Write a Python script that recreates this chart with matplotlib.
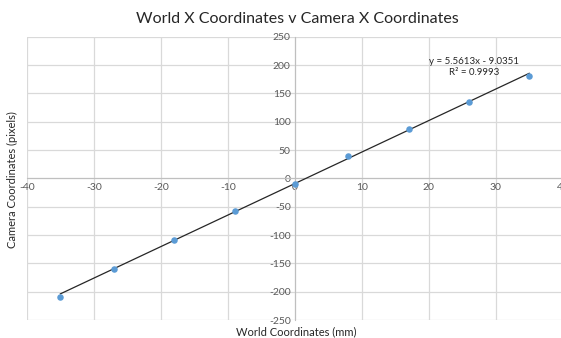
import matplotlib

matplotlib.use("Agg")
import matplotlib.pyplot as plt
import numpy as np

# ---------------------------------------------------------------------------
# Data
# ---------------------------------------------------------------------------
world_x = [-35, -27, -18, -9, 0, 8, 17, 26, 35]
camera_x = [-210, -160, -108, -58, -10, 40, 88, 135, 181]
slope = 5.5613
intercept = -9.0351
r_squared = 0.9993

x_ticks = [-40, -30, -20, -10, 0, 10, 20, 30, 40]
y_ticks = [-250, -200, -150, -100, -50, 0, 50, 100, 150, 200, 250]

plt.rcParams["font.family"] = ["Lato", "DejaVu Sans"]

fig = plt.figure(figsize=(5.61, 3.38), dpi=100)
ax = fig.add_axes([0.048, 0.053, 0.955, 0.838])

grid_col = "#d9d9d9"
tick_col = "#595959"

ax.set_xlim(-40, 40)
ax.set_ylim(-250, 250)
ax.set_xticks(x_ticks)
ax.set_yticks(y_ticks)
ax.grid(True, color=grid_col, linewidth=0.9)
ax.set_axisbelow(True)

for side in ("top", "right"):
    ax.spines[side].set_visible(False)
ax.spines["left"].set_position("zero")
ax.spines["bottom"].set_position("zero")
ax.spines["left"].set_color("#bfbfbf")
ax.spines["bottom"].set_color("#bfbfbf")
ax.tick_params(length=0, labelsize=7.5, labelcolor=tick_col, pad=3)
ax.set_xticklabels([str(v) for v in x_ticks])
ax.set_yticklabels([str(v) for v in y_ticks])

# trendline over data range
xs = np.array([min(world_x), max(world_x)])
ax.plot(xs, slope * xs + intercept, color="#262626", linewidth=0.9, zorder=3)
ax.scatter(world_x, camera_x, s=22, color="#5b9bd5", zorder=4, linewidths=0)

ax.text(26.8, 196, f"y = {slope}x - {abs(intercept)}\nR² = {r_squared}",
        fontsize=7, ha="center", va="center", color="#262626", linespacing=1.3)

fig.text(0.53, 0.945, "World X Coordinates v Camera X Coordinates",
         ha="center", va="center", fontsize=11.5, color="#262626")
fig.text(0.528, 0.018, "World Coordinates (mm)",
         ha="center", va="center", fontsize=8, color="#262626")
fig.text(0.022, 0.47, "Camera Coordinates (pixels)", rotation=90,
         ha="center", va="center", fontsize=8, color="#262626")

fig.savefig("out.png", dpi=100)
